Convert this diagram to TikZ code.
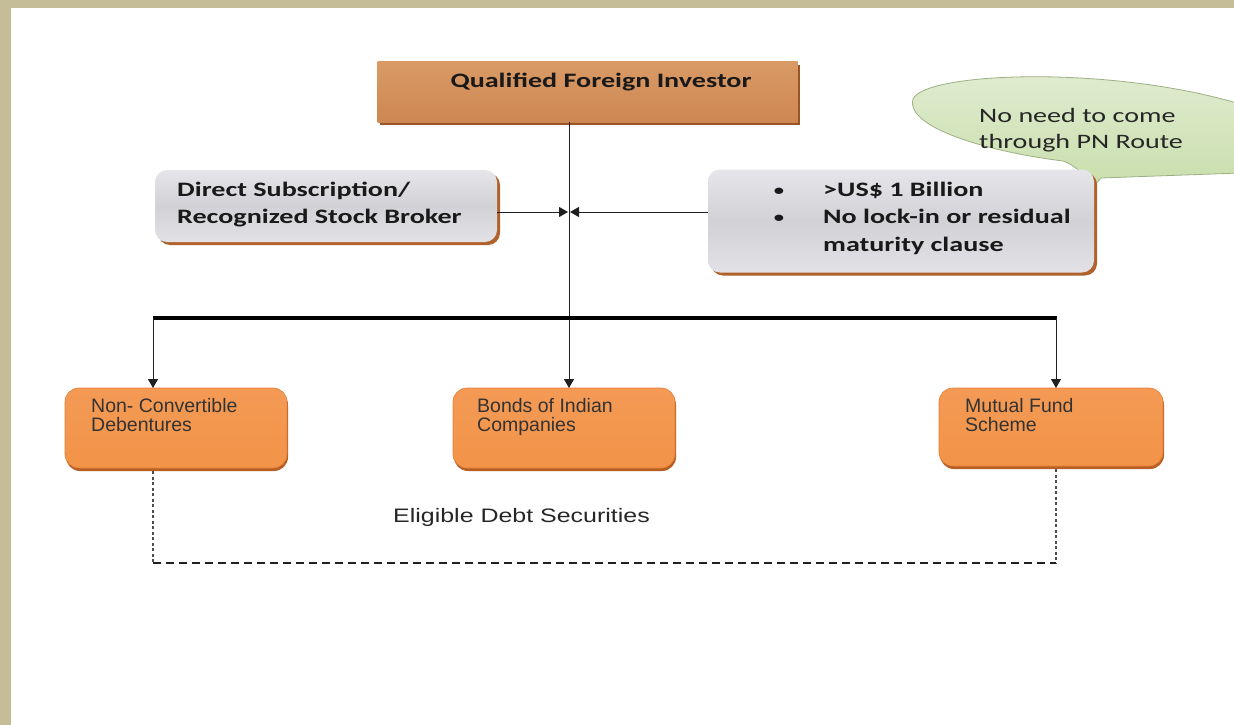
\documentclass[tikz,border=0pt]{standalone}
\usepackage{fontspec}
\setmainfont{Carlito}[FakeStretch=1.37]
\newfontfamily\arialf{Liberation Sans}
\usetikzlibrary{shadows,arrows.meta}
\definecolor{frame}{HTML}{C4BD97}
\definecolor{qfiT}{HTML}{D99A66}
\definecolor{qfiB}{HTML}{CD8752}
\definecolor{qfiS}{HTML}{9A5426}
\definecolor{grayA}{HTML}{E6E6EA}
\definecolor{grayM}{HTML}{D2D2D6}
\definecolor{grayB}{HTML}{E2E2E6}
\definecolor{brownS}{HTML}{B0622C}
\definecolor{orT}{HTML}{F49A55}
\definecolor{orM}{HTML}{F5882E}
\definecolor{orB}{HTML}{F29448}
\definecolor{orD}{HTML}{B95E24}
\definecolor{orE}{HTML}{E07E38}
\definecolor{bubT}{HTML}{E1EDD2}
\definecolor{bubB}{HTML}{C9DEAC}
\definecolor{bubD}{HTML}{9CB084}
\definecolor{linec}{HTML}{202020}
\tikzset{
  qfibox/.style={rectangle, inner sep=0pt, outer sep=0pt, top color=qfiT, bottom color=qfiB,
     drop shadow={shadow xshift=2pt, shadow yshift=-3pt, fill=qfiS, opacity=1}},
  graybox/.style={rectangle, rounded corners=12pt, inner sep=0pt, outer sep=0pt,
     top color=grayA, bottom color=grayB, middle color=grayM,
     drop shadow={shadow xshift=3pt, shadow yshift=-3pt, fill=brownS, opacity=1}},
  orbox/.style={rectangle, rounded corners=14pt, inner sep=0pt, outer sep=0pt, draw=orE, line width=0.6pt,
     top color=orT, middle color=orM, bottom color=orB,
     drop shadow={shadow xshift=1pt, shadow yshift=-3pt, fill=orD, opacity=1}},
  boldtxt/.style={inner sep=0pt, anchor=base west, font=\bfseries\fontsize{20.5}{24}\selectfont, text=black!90},
  bultxt/.style={inner sep=0pt, anchor=base, font=\bfseries\fontsize{15}{18}\selectfont, text=black!90},
  bubtxt/.style={inner sep=0pt, anchor=base west, font=\fontsize{20.5}{24}\selectfont, text=black!85},
  ortxt/.style={inner sep=0pt, anchor=base west, font=\arialf\fontsize{19.5}{23}\selectfont, text=black!80},
  conn/.style={draw=linec, line width=1pt},
  arr/.style={conn, -{Triangle[length=9pt,width=10pt]}},
  dotl/.style={draw=linec!80, line width=1.2pt, dash pattern=on 3pt off 2.5pt},
  dashl/.style={draw=linec, line width=1.8pt, dash pattern=on 8pt off 5pt},
}
\begin{document}
\begin{tikzpicture}[x=1pt,y=-1pt]
\fill[frame] (0,0) rectangle (1234,725);
\fill[white] (11,8) rectangle (1234,725);
\useasboundingbox (0,0) rectangle (1234,725);

% callout bubble
\begin{scope}
\clip (11,8) rectangle (1234,725);
\path[draw=bubD, line width=0.8pt, top color=bubT, bottom color=bubB]
  (913,99) .. controls (925,72) and (1110,65) .. (1240,104)
  -- (1240,173) -- (1101,178) -- (1092,188)
  .. controls (1085,175) and (1075,165) .. (1063,161)
  .. controls (990,152) and (905,128) .. (913,99) -- cycle;
\end{scope}
\node[bubtxt] (b1) at (979,122) {No need to come};
\node[bubtxt] (b2) at (979,148) {through PN Route};

% QFI
\node[qfibox, minimum width=420pt, minimum height=60pt] (qfi) at (587.5,92) {};
\node[boldtxt, anchor=base] (qfit) at (601,87) {Qualified Foreign Investor};

% left gray box
\node[graybox, minimum width=342pt, minimum height=72pt] (ds) at (326,206) {};
\node[boldtxt] (ds1) at (177,196) {Direct Subscription/};
\node[boldtxt] (ds2) at (177,223) {Recognized Stock Broker};

% right gray box
\node[graybox, minimum width=386pt, minimum height=103pt] (cr) at (901,221) {};
\node[bultxt] (bu1) at (779,195) {•};
\node[boldtxt] (cr1) at (823,196) {>US\$ 1 Billion};
\node[bultxt] (bu2) at (779,222) {•};
\node[boldtxt] (cr2) at (823,223) {No lock-in or residual};
\node[boldtxt] (cr3) at (823,251) {maturity clause};

% bottom orange boxes
\node[orbox, minimum width=222pt, minimum height=80pt] (ncd) at (176,428) {};
\node[ortxt] (ncd1) at (91,412) {Non- Convertible};
\node[ortxt] (ncd2) at (91,431) {Debentures};
\node[orbox, minimum width=222pt, minimum height=80pt] (bic) at (564,428) {};
\node[ortxt] (bic1) at (477,412) {Bonds of Indian};
\node[ortxt] (bic2) at (477,431) {Companies};
\node[orbox, minimum width=224pt, minimum height=78pt] (mfs) at (1051,427) {};
\node[ortxt] (mfs1) at (965,412) {Mutual Fund};
\node[ortxt] (mfs2) at (965,431) {Scheme};

\node[inner sep=0pt, anchor=base west, font=\arialf\fontsize{19.5}{23}\selectfont, text=black!85] (eds) at (393,522) {\scalebox{1.28}[1]{Eligible Debt Securities}};

% connectors
\coordinate (jn) at (569,212);
\coordinate (hl) at (153,318);
\coordinate (hr) at (1056,318);
\coordinate (dl) at (153,563);
\coordinate (dr) at (1056,563);
\draw[arr] (qfi.south -| jn) -- (bic.north -| jn);
\draw[arr] (ds.east |- jn) -- ([xshift=-1pt]jn);
\draw[arr] (cr.west |- jn) -- ([xshift=1pt]jn);
\draw[draw=black, line width=4pt] ([xshift=-0.5pt]hl) -- ([xshift=0.5pt]hr);
\draw[arr] (hl) -- (ncd.north -| hl);
\draw[arr] (hr) -- (mfs.north -| hr);
\draw[dotl] ([yshift=-3pt]ncd.south -| dl) -- (dl);
\draw[dotl] ([yshift=-3pt]mfs.south -| dr) -- (dr);
\draw[dashl] (dl) -- (dr);
\end{tikzpicture}
\end{document}
